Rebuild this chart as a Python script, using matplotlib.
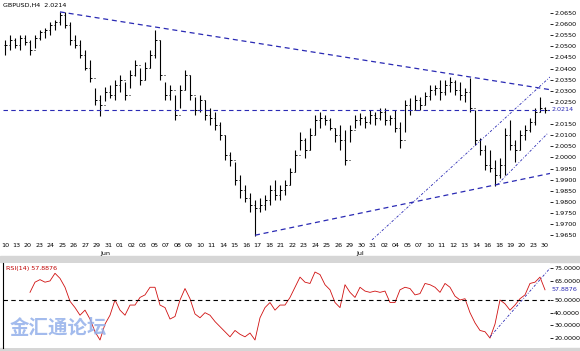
import matplotlib
matplotlib.use("Agg")
import matplotlib.pyplot as plt
from matplotlib.patches import Rectangle
import numpy as np

# ---------------------------------------------------------
# DATA
# ---------------------------------------------------------
highs = [2.0529, 2.0551, 2.0538, 2.0551, 2.0551, 2.0529, 2.0551, 2.0574, 2.0583, 2.0610,
         2.0619, 2.0655, 2.0655, 2.0610, 2.0551, 2.0529, 2.0484, 2.0439, 2.0313, 2.0281,
         2.0317, 2.0326, 2.0349, 2.0371, 2.0340, 2.0394, 2.0439, 2.0403, 2.0430, 2.0484,
         2.0574, 2.0529, 2.0340, 2.0326, 2.0281, 2.0326, 2.0394, 2.0371, 2.0272, 2.0281,
         2.0259, 2.0223, 2.0205, 2.0160, 2.0101, 2.0025, 1.9980, 1.9921, 1.9876, 1.9840,
         1.9809, 1.9818, 1.9831, 1.9876, 1.9899, 1.9876, 1.9899, 1.9953, 2.0034, 2.0114,
         2.0088, 2.0133, 2.0191, 2.0205, 2.0191, 2.0178, 2.0133, 2.0146, 2.0124, 2.0146,
         2.0191, 2.0200, 2.0187, 2.0214, 2.0205, 2.0223, 2.0223, 2.0191, 2.0214, 2.0160,
         2.0259, 2.0268, 2.0281, 2.0272, 2.0295, 2.0326, 2.0326, 2.0349, 2.0349, 2.0362,
         2.0349, 2.0340, 2.0313, 2.0358, 2.0214, 2.0088, 2.0056, 2.0034, 1.9989, 1.9998,
         2.0133, 2.0169, 2.0079, 2.0124, 2.0146, 2.0178, 2.0223, 2.0272, 2.0227]
lows = [2.0461, 2.0484, 2.0493, 2.0484, 2.0506, 2.0461, 2.0493, 2.0529, 2.0538, 2.0551,
        2.0574, 2.0596, 2.0583, 2.0506, 2.0493, 2.0448, 2.0394, 2.0340, 2.0236, 2.0187,
        2.0254, 2.0268, 2.0259, 2.0295, 2.0259, 2.0313, 2.0367, 2.0326, 2.0349, 2.0403,
        2.0448, 2.0349, 2.0259, 2.0259, 2.0169, 2.0223, 2.0304, 2.0259, 2.0191, 2.0205,
        2.0169, 2.0146, 2.0124, 2.0079, 1.9989, 1.9962, 1.9876, 1.9818, 1.9800, 1.9755,
        1.9647, 1.9755, 1.9764, 1.9786, 1.9809, 1.9809, 1.9831, 1.9876, 1.9935, 2.0034,
        1.9998, 2.0034, 2.0101, 2.0133, 2.0146, 2.0124, 2.0070, 2.0034, 1.9966, 2.0070,
        2.0133, 2.0146, 2.0133, 2.0151, 2.0146, 2.0169, 2.0146, 2.0146, 2.0115, 2.0043,
        2.0115, 2.0191, 2.0214, 2.0214, 2.0236, 2.0259, 2.0281, 2.0259, 2.0281, 2.0295,
        2.0281, 2.0259, 2.0250, 2.0205, 2.0056, 2.0011, 1.9944, 1.9935, 1.9872, 1.9908,
        1.9921, 2.0034, 1.9980, 2.0034, 2.0079, 2.0115, 2.0146, 2.0205, 2.0200]
closes = [2.0506, 2.0529, 2.0506, 2.0538, 2.0520, 2.0484, 2.0538, 2.0565, 2.0574, 2.0596,
          2.0610, 2.0641, 2.0596, 2.0529, 2.0506, 2.0461, 2.0403, 2.0358, 2.0259, 2.0236,
          2.0295, 2.0281, 2.0326, 2.0349, 2.0281, 2.0371, 2.0416, 2.0349, 2.0403, 2.0461,
          2.0529, 2.0371, 2.0281, 2.0304, 2.0191, 2.0304, 2.0371, 2.0281, 2.0214, 2.0259,
          2.0191, 2.0178, 2.0146, 2.0101, 2.0011, 1.9989, 1.9899, 1.9854, 1.9818, 1.9786,
          1.9773, 1.9786, 1.9809, 1.9854, 1.9831, 1.9854, 1.9876, 1.9935, 2.0011, 2.0079,
          2.0034, 2.0101, 2.0169, 2.0178, 2.0169, 2.0133, 2.0101, 2.0079, 1.9989, 2.0124,
          2.0169, 2.0178, 2.0160, 2.0191, 2.0178, 2.0205, 2.0169, 2.0178, 2.0133, 2.0079,
          2.0236, 2.0214, 2.0259, 2.0236, 2.0277, 2.0304, 2.0313, 2.0295, 2.0326, 2.0340,
          2.0304, 2.0281, 2.0295, 2.0223, 2.0079, 2.0034, 1.9966, 1.9953, 1.9921, 1.9966,
          2.0101, 2.0056, 2.0034, 2.0101, 2.0124, 2.0160, 2.0205, 2.0223, 2.0214]

rsi = [np.nan] * 5 + [56, 64, 66, 64, 65, 71, 67, 60, 49, 44,
       38, 42, 35, 25, 18.5, 31, 38, 50, 42, 38,
       46, 46, 52, 54, 60, 60, 46, 44, 35, 37,
       50, 59, 51, 39, 36, 40, 38, 33, 29, 25,
       21, 26, 23, 21, 24, 18.5, 36, 44, 48, 42,
       46, 46, 52, 60, 68, 64, 63, 72, 70, 62,
       58, 48, 44, 62, 56, 52, 60, 57, 56, 57,
       56, 57, 48, 48, 58, 60, 59, 54, 55, 63,
       62, 60, 56, 63, 60, 53, 50, 51, 40, 32,
       26, 25, 20, 31, 50, 47, 42, 46, 51, 54,
       63, 64, 68, 58]

day_labels = ["10", "13", "20", "23", "24", "25", "26", "27", "29", "31", "01", "02",
              "03", "05", "07", "08", "09", "10", "11", "14", "15", "16", "17", "18",
              "21", "22", "23", "24", "25", "26", "29", "30", "31", "02", "04", "05",
              "07", "10", "11", "12", "13", "14", "16", "18", "19", "20", "23", "30"]
months = [("Jun", 20), ("Jul", 71)]

last_price = 2.0214
rsi_last = "57.8876"
symbol_title = "GBPUSD,H4  2.0214"

# trend lines (bar index, price)
upper_line = [(11, 2.0655), (109, 2.0305)]
support_line = [(50, 1.9650), (109, 1.9928)]
channel_a = [(73.4, 1.9629), (109, 2.0362)]
channel_b = [(98.4, 1.9876), (108.6, 2.0110)]
rsi_line = [(97, 21), (109, 75)]

# ---------------------------------------------------------
# PLOT
# ---------------------------------------------------------
W, H = 580, 351
fig = plt.figure(figsize=(W / 100, H / 100), dpi=100)
fig.patch.set_facecolor("white")

ax = fig.add_axes([3 / W, 1 - 240 / H, 547 / W, 232 / H])
ax2 = fig.add_axes([3 / W, 1 - 348 / H, 547 / W, 85 / H])

idx = np.arange(len(closes))
opens = [closes[0]] + closes[:-1]
navy = "#2a2ab4"
tick_fs = 4.6

# ----------------------------- PRICE BARS
ax.vlines(idx, lows, highs, color="black", linewidth=0.8)
ax.hlines(opens, idx - 0.3, idx, color="black", linewidth=0.7)
ax.hlines(closes, idx, idx + 0.3, color="black", linewidth=0.7)

ax.axhline(last_price, color=navy, linestyle=(0, (4, 3)), linewidth=0.8)
for line, ls, lw in [(upper_line, (0, (4, 3)), 0.9), (support_line, (0, (4, 3)), 0.9),
                     (channel_a, (0, (3, 2, 1, 2)), 0.6), (channel_b, (0, (3, 2, 1, 2)), 0.6)]:
    ax.plot([p[0] for p in line], [p[1] for p in line], color=navy, linestyle=ls, linewidth=lw)

ax.set_xlim(-0.4, 109)
ax.set_ylim(1.96285, 2.06725)

price_ticks = [t for t in np.arange(1.965, 2.0651, 0.005) if abs(t - 2.02) > 1e-4]
ax.yaxis.tick_right()
ax.set_yticks(price_ticks)
ax.set_yticklabels([f"{t:.4f}" for t in price_ticks])
ax.tick_params(axis="y", labelsize=tick_fs, length=2, pad=1, width=0.6)
ax.text(1.003, last_price, f"{last_price:.4f}", transform=ax.get_yaxis_transform(),
        color=navy, fontsize=tick_fs, va="center", ha="left")

ax.set_xticks(np.linspace(0, 108, len(day_labels)))
ax.set_xticklabels(day_labels)
ax.tick_params(axis="x", labelsize=tick_fs, length=0, pad=2)
for name, pos in months:
    ax.text(pos, -0.058, name, transform=ax.get_xaxis_transform(),
            fontsize=tick_fs, ha="center", va="center")
for s in ax.spines.values():
    s.set_visible(False)

# ----------------------------- RSI
ax2.plot(idx, rsi, color="#d01010", linewidth=0.6)
ax2.axhline(50, color="black", linestyle=(0, (4, 3)), linewidth=0.8)
ax2.plot([p[0] for p in rsi_line], [p[1] for p in rsi_line], color=navy,
         linestyle=(0, (3, 2, 1, 2)), linewidth=0.6)
ax2.set_xlim(-0.4, 109)
ax2.set_ylim(12.2, 79.1)
ax2.set_xticks([])
ax2.yaxis.tick_right()
rsi_ticks = [75, 65, 50, 40, 30, 20]
ax2.set_yticks(rsi_ticks)
ax2.set_yticklabels([f"{t:.4f}" for t in rsi_ticks])
ax2.tick_params(axis="y", labelsize=tick_fs, length=2, pad=1, width=0.6)
ax2.text(1.003, 58.6, rsi_last, transform=ax2.get_yaxis_transform(),
         color=navy, fontsize=tick_fs, va="center", ha="left")
for name, s in ax2.spines.items():
    s.set_visible(name == "left")
ax2.spines["left"].set_linewidth(0.8)

ax2.text(0.005, 0.97, "RSI(14) " + rsi_last, transform=ax2.transAxes,
         color="#c00000", fontsize=tick_fs, va="top", ha="left")
ax2.text(0.012, 0.12, "金汇通论坛", transform=ax2.transAxes, fontsize=14,
         fontweight="bold", color="#93b0ea", alpha=0.85, va="bottom", ha="left",
         family=["Noto Sans CJK SC", "DejaVu Sans"])

# ----------------------------- WINDOW CHROME
fig.add_artist(Rectangle((0, 1 - 262 / H), 1, 6 / H, transform=fig.transFigure,
                         color="#d6d6d6", zorder=0))
fig.add_artist(Rectangle((0, 0), 1, 3 / H, transform=fig.transFigure,
                         color="#d6d6d6", zorder=0))
fig.text(3 / W, 1 - 5 / H, symbol_title, fontsize=tick_fs, va="center", ha="left")

plt.savefig("out.png", dpi=100)
plt.close()
